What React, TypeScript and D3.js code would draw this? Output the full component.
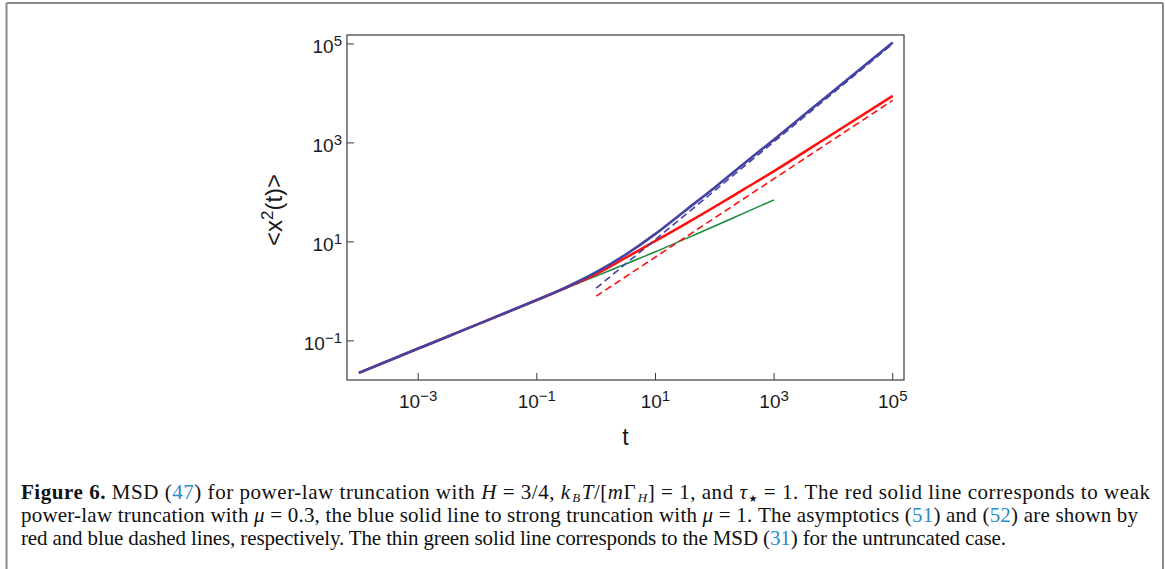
import React from 'react';
import * as d3 from 'd3';

// ---- data (t and <x^2(t)>) ----
const tCommon = [1e-4, 3.16e-4, 1e-3, 3.16e-3, 1e-2, 3.16e-2, 1e-1];
const msdCommon = [0.0226, 0.0398, 0.070, 0.123, 0.216, 0.38, 0.668];

const tGreen = [...tCommon, 0.316, 1, 3.16, 10, 31.6, 100, 316, 1000];
const msdGreen = [...msdCommon, 1.17, 2.04, 3.59, 6.31, 11.5, 20.9, 38.5, 70.8];

const tRed = [...tCommon, 0.316, 1, 3.16, 10, 31.6, 100, 316, 1000, 1e4, 1e5];
const msdRed = [...msdCommon, 1.2, 2.24, 4.79, 10.5, 22.9, 51.3, 117.5, 269, 1549, 8913];

const tBlue = [...tCommon, 0.316, 1, 3.16, 10, 31.6, 100, 316, 1000, 1e4, 1e5];
const msdBlue = [...msdCommon, 1.22, 2.44, 5.56, 14.5, 42.7, 126, 389, 1175, 11220, 107152];

const tRedDash = [1, 1e5];
const msdRedDash = [0.8, 7244];

const tBlueDash = [1, 1e5];
const msdBlueDash = [1.16, 1.0e5];

const xTickValues = [1e-3, 1e-1, 1e1, 1e3, 1e5];
const xTickExps = ['\u22123', '\u22121', '1', '3', '5'];
const yTickValues = [1e-1, 1e1, 1e3, 1e5];
const yTickExps = ['\u22121', '1', '3', '5'];

const xLabel = 't';

const W = 1165;
const H = 569;
const plot = { left: 347, right: 904, top: 35, bottom: 380 };

const x = d3.scaleLog().domain([Math.pow(10, -4.2), Math.pow(10, 5.19)]).range([plot.left, plot.right]);
const y = d3.scaleLog().domain([Math.pow(10, -1.79), Math.pow(10, 5.18)]).range([plot.bottom, plot.top]);

const makeLine = (ts: number[], vs: number[]) =>
  d3
    .line<number>()
    .x((_, i) => x(ts[i]))
    .y((v) => y(v))
    .curve(d3.curveMonotoneX)(vs) || '';

const BLUE = '#4343a3';
const RED = '#ff1010';
const GREEN = '#17893c';
const LINK = '#2a8cc8';

const sans = 'Liberation Sans, Arial, sans-serif';
const serif = 'Liberation Serif, Times New Roman, serif';

export default function App() {
  const fs = 21;
  return (
    <div style={{ position: 'fixed', left: 0, top: 0 }}>
      <svg width={W} height={H} style={{ display: 'block', background: '#fff' }}>
        {/* outer figure border */}
        <line x1={6.5} y1={3} x2={1163} y2={3} stroke="#8a8a8a" strokeWidth={2} />
        <line x1={6.5} y1={3} x2={6.5} y2={H} stroke="#8a8a8a" strokeWidth={2} />
        <line x1={1163} y1={3} x2={1163} y2={H} stroke="#8a8a8a" strokeWidth={2} />

        {/* series */}
        <path d={makeLine(tGreen, msdGreen)} fill="none" stroke={GREEN} strokeWidth={1.5} />
        <path d={makeLine(tRed, msdRed)} fill="none" stroke={RED} strokeWidth={2.6} />
        <path d={makeLine(tBlue, msdBlue)} fill="none" stroke={BLUE} strokeWidth={2.6} />
        <path d={makeLine(tRedDash, msdRedDash)} fill="none" stroke={RED} strokeWidth={1.6} strokeDasharray="7,4" />
        <path d={makeLine(tBlueDash, msdBlueDash)} fill="none" stroke={BLUE} strokeWidth={1.6} strokeDasharray="7,4" />

        {/* frame */}
        <rect
          x={plot.left}
          y={plot.top}
          width={plot.right - plot.left}
          height={plot.bottom - plot.top}
          fill="none"
          stroke="#3a3a3a"
          strokeWidth={1.2}
        />

        {/* x ticks */}
        {xTickValues.map((v, i) => (
          <g key={'xt' + i}>
            <line x1={x(v)} x2={x(v)} y1={plot.bottom} y2={plot.bottom - 7} stroke="#3a3a3a" strokeWidth={1} />
            <text x={x(v)} y={408} textAnchor="middle" fontFamily={sans} fontSize={19} fill="#1a1a1a">
              10
              <tspan dy={-7} fontSize={15}>
                {xTickExps[i]}
              </tspan>
            </text>
          </g>
        ))}

        {/* y ticks */}
        {yTickValues.map((v, i) => (
          <g key={'yt' + i}>
            <line x1={plot.left} x2={plot.left + 7} y1={y(v)} y2={y(v)} stroke="#3a3a3a" strokeWidth={1} />
            <text x={342} y={y(v) + 9} textAnchor="end" fontFamily={sans} fontSize={19} fill="#1a1a1a">
              10
              <tspan dy={-7} fontSize={15}>
                {yTickExps[i]}
              </tspan>
            </text>
          </g>
        ))}

        {/* axis titles */}
        <text x={(plot.left + plot.right) / 2} y={445} textAnchor="middle" fontFamily={sans} fontSize={23} fill="#1a1a1a">
          {xLabel}
        </text>
        <text
          transform={`translate(282, 210) rotate(-90)`}
          textAnchor="middle"
          fontFamily={sans}
          fontSize={24}
          fill="#1a1a1a"
        >
          {'<x'}
          <tspan dy={-9} fontSize={17}>
            2
          </tspan>
          <tspan dy={9}>{'(t)>'}</tspan>
        </text>

        {/* caption */}
        <g fontFamily={serif} fontSize={fs} fill="#111">
          <text x={21} y={499} textLength={1129} lengthAdjust="spacing">
            <tspan fontWeight="bold">Figure 6.</tspan> MSD (<tspan fill={LINK}>47</tspan>) for power-law truncation with{' '}
            <tspan fontStyle="italic">H</tspan> = 3/4, <tspan fontStyle="italic">k</tspan>
            <tspan fontStyle="italic" fontSize={13} dx={1.5} dy={3}>B</tspan>
            <tspan dx={1} dy={-3} fontStyle="italic">T</tspan>/[<tspan fontStyle="italic">m</tspan>Γ
            <tspan fontStyle="italic" fontSize={13} dx={1.5} dy={3}>H</tspan>
            <tspan dy={-3}>] = 1, and </tspan>
            <tspan fontStyle="italic">τ</tspan>
            <tspan fontSize={10} dx={1} dy={3} fontFamily="DejaVu Sans">★</tspan>
            <tspan dy={-3}> = 1. The red solid line corresponds to weak</tspan>
          </text>
          <text x={21} y={522} textLength={1117} lengthAdjust="spacing">
            power-law truncation with <tspan fontStyle="italic">μ</tspan> = 0.3, the blue solid line to strong truncation with{' '}
            <tspan fontStyle="italic">μ</tspan> = 1. The asymptotics (<tspan fill={LINK}>51</tspan>) and (
            <tspan fill={LINK}>52</tspan>) are shown by
          </text>
          <text x={21} y={545} textLength={985} lengthAdjust="spacing">
            red and blue dashed lines, respectively. The thin green solid line corresponds to the MSD (
            <tspan fill={LINK}>31</tspan>) for the untruncated case.
          </text>
        </g>
      </svg>
    </div>
  );
}
